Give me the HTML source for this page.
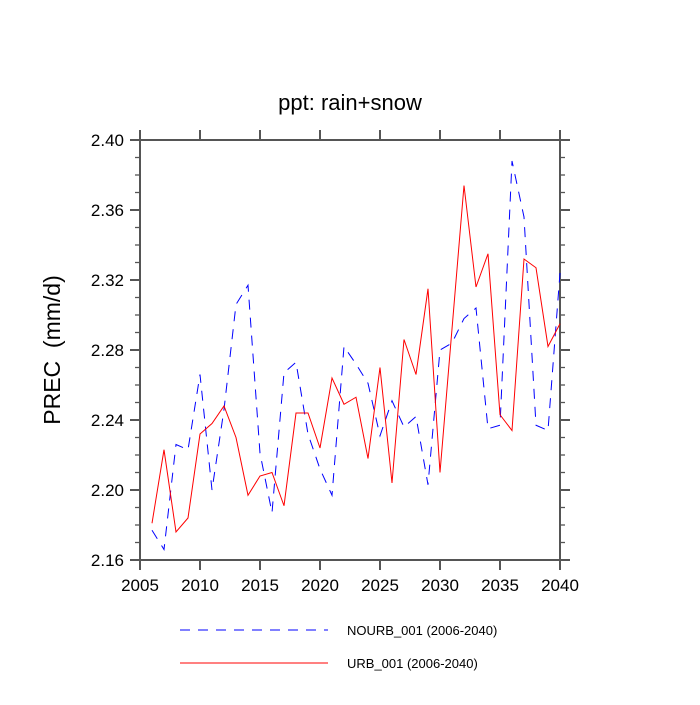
<!DOCTYPE html>
<html><head><meta charset="utf-8"><style>
body{margin:0;background:#fff}
svg{font-family:"Liberation Sans",sans-serif}
</style></head><body>
<svg id="chart" width="700" height="700" xmlns="http://www.w3.org/2000/svg">
<text x="350" y="110" text-anchor="middle" font-size="22">ppt: rain+snow</text>
<text transform="translate(60,350) rotate(-90)" text-anchor="middle" font-size="23">PREC &#160;(mm/d)</text>
<g id="axes"></g>
<g id="series"></g>
<g>
<line x1="180" y1="630" x2="328" y2="630" stroke="#00f" stroke-width="1" stroke-dasharray="10,8"/>
<text x="347" y="635" font-size="13">NOURB_001 (2006-2040)</text>
<line x1="180" y1="663" x2="328" y2="663" stroke="#f00" stroke-width="1"/>
<text x="347" y="668" font-size="13">URB_001 (2006-2040)</text>
</g>
</svg>
<script>
const years=[2006,2007,2008,2009,2010,2011,2012,2013,2014,2015,2016,2017,2018,2019,2020,2021,2022,2023,2024,2025,2026,2027,2028,2029,2030,2031,2032,2033,2034,2035,2036,2037,2038,2039,2040];
const urb=[2.181,2.223,2.176,2.184,2.232,2.238,2.248,2.230,2.197,2.208,2.210,2.191,2.244,2.244,2.224,2.264,2.249,2.253,2.218,2.270,2.204,2.286,2.266,2.315,2.210,2.292,2.374,2.316,2.335,2.243,2.234,2.332,2.327,2.282,2.295];
const nourb=[2.177,2.166,2.226,2.223,2.266,2.200,2.246,2.306,2.317,2.221,2.187,2.267,2.273,2.232,2.212,2.197,2.282,2.272,2.261,2.231,2.251,2.236,2.242,2.203,2.280,2.284,2.298,2.304,2.235,2.237,2.388,2.356,2.237,2.234,2.324];
const xTicks=[2005,2010,2015,2020,2025,2030,2035,2040];
const yTicks=[2.16,2.20,2.24,2.28,2.32,2.36,2.40];
const L=140,R=560,T=140,B=560;
const xs=v=>L+(v-2005)/35*(R-L);
const ys=v=>B-(v-2.16)/0.24*(B-T);
const NS="http://www.w3.org/2000/svg";
const ax=document.getElementById('axes');
function mk(tag,attrs,parent){const e=document.createElementNS(NS,tag);for(const k in attrs)e.setAttribute(k,attrs[k]);parent.appendChild(e);return e;}
const frame=mk('rect',{x:L,y:T,width:R-L,height:B-T,fill:'none',stroke:'#555','stroke-width':2},ax);


xTicks.forEach(t=>{const x=xs(t);
 mk('line',{x1:x,y1:B,x2:x,y2:B+10,stroke:'#555','stroke-width':2},ax);
 mk('line',{x1:x,y1:T,x2:x,y2:T-10,stroke:'#555','stroke-width':2},ax);
 const tx=mk('text',{x:x,y:B+31,'text-anchor':'middle','font-size':17},ax);tx.textContent=t;
 
 
});
for(let v=2.16;v<=2.4001;v+=0.01){const y=ys(v);const major=Math.abs(Math.round(v*100)%4)===0;const len=major?10:5;
 mk('line',{x1:L,y1:y,x2:L-len,y2:y,stroke:'#555','stroke-width':major?2:1.3},ax);
 mk('line',{x1:R,y1:y,x2:R+len,y2:y,stroke:'#555','stroke-width':major?2:1.3},ax);}
yTicks.forEach(t=>{const tx=mk('text',{x:L-16,y:ys(t)+6,'text-anchor':'end','font-size':17},ax);tx.textContent=t.toFixed(2);
 
 
});
const sg=document.getElementById('series');
const p1=mk('polyline',{points:years.map((y,i)=>xs(y)+','+ys(nourb[i])).join(' '),fill:'none',stroke:'#00f','stroke-width':1,'stroke-dasharray':'10,8'},sg);


const p2=mk('polyline',{points:years.map((y,i)=>xs(y)+','+ys(urb[i])).join(' '),fill:'none',stroke:'#f00','stroke-width':1},sg);


</script>
</body></html>
